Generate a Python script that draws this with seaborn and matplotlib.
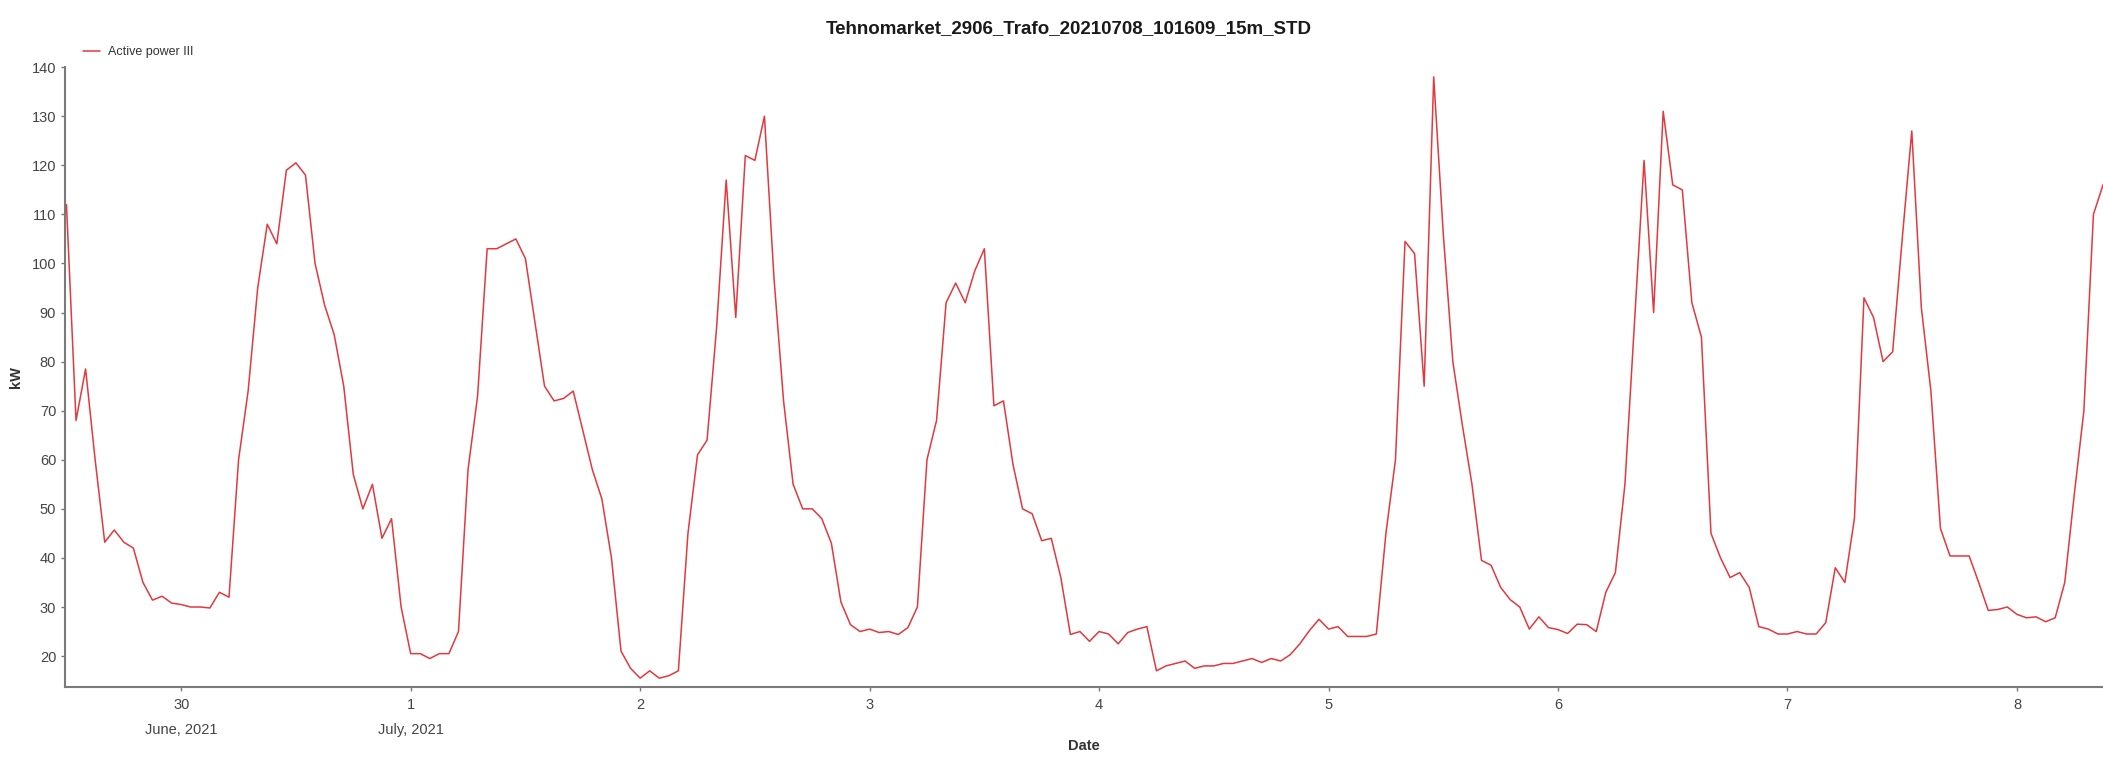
import pandas as pd
import numpy as np
import seaborn as sns
import matplotlib.pyplot as plt
import matplotlib.dates as mdates

# Active power III, hourly readings, starting 29 June 2021 12:00
kw = [
    112, 68, 78.5, 60, 43.2, 45.7, 43.2, 42, 35, 31.4, 32.2, 30.8,
    30.5, 30, 30, 29.8, 33, 32, 60, 74, 95, 108, 104, 119, 120.5, 118, 100, 91.5, 85.5, 75, 57, 50, 55, 44, 48, 30,
    20.5, 20.5, 19.5, 20.5, 20.5, 25, 58, 73, 103, 103, 104, 105, 101, 88, 75, 72, 72.5, 74, 66, 58, 52, 40, 21, 17.5,
    15.5, 17, 15.5, 16, 17, 45, 61, 64, 87, 117, 89, 122, 121, 130, 97, 72, 55, 50, 50, 48, 43, 31, 26.4, 25,
    25.5, 24.8, 25, 24.4, 25.8, 30, 60, 68, 92, 96, 92, 98.5, 103, 71, 72, 59, 50, 49, 43.5, 44, 36, 24.4, 25, 23,
    25, 24.5, 22.5, 24.8, 25.5, 26, 17, 18, 18.5, 19, 17.5, 18, 18, 18.5, 18.5, 19, 19.5, 18.7, 19.5, 19, 20.3, 22.5, 25.2, 27.5,
    25.5, 26, 24, 24, 24, 24.5, 45, 60, 104.5, 102, 75, 138, 106, 80, 67, 55, 39.5, 38.5, 34, 31.5, 30, 25.5, 28, 25.8,
    25.4, 24.6, 26.5, 26.4, 25, 33, 37, 55, 88, 121, 90, 131, 116, 115, 92, 85, 45, 40, 36, 37, 34, 26, 25.5, 24.5,
    24.5, 25, 24.5, 24.5, 26.8, 38, 35, 48, 93, 89, 80, 82, 105, 127, 91, 74, 46, 40.4, 40.4, 40.4, 35, 29.3, 29.5, 30,
    28.5, 27.8, 28, 27, 27.8, 35, 53, 70, 110, 116, 119,
]
tick_days = ["2021-06-30", "2021-07-01", "2021-07-02", "2021-07-03", "2021-07-04",
             "2021-07-05", "2021-07-06", "2021-07-07", "2021-07-08"]
tick_labels = ["30\nJune, 2021", "1\nJuly, 2021", "2", "3", "4", "5", "6", "7", "8"]
y_ticks = [20, 30, 40, 50, 60, 70, 80, 90, 100, 110, 120, 130, 140]

df = pd.DataFrame({
    "Date": pd.date_range("2021-06-29 12:00", periods=len(kw), freq="1h"),
    "kW": kw,
})
df["series"] = "Active power III"

sns.set_style("ticks")
plt.rcParams["font.family"] = ["Liberation Sans Narrow", "Liberation Sans", "DejaVu Sans"]

fig = plt.figure(figsize=(21.03, 7.63), dpi=100)
ax = fig.add_axes([0.031, 0.0996, 0.969, 0.8124])

sns.lineplot(data=df, x="Date", y="kW", hue="series", palette=["#e2383e"],
             linewidth=1.1, ax=ax, legend=False)

ax.set_xlim(pd.Timestamp("2021-06-29 11:52"), pd.Timestamp("2021-07-08 09:00"))
ax.set_ylim(13.7, 140)
ax.set_yticks(y_ticks)
ax.set_xticks(pd.to_datetime(tick_days))
ax.set_xticklabels(tick_labels)
for lab in ax.get_xticklabels():
    lab.set_linespacing(2.0)

for s in ["top", "right"]:
    ax.spines[s].set_visible(False)
for s in ["left", "bottom"]:
    ax.spines[s].set_color("#7a7a7a")
    ax.spines[s].set_linewidth(1.5)
ax.tick_params(axis="both", colors="#7a7a7a", labelcolor="#444444",
               labelsize=10.5, length=3, width=1)
ax.tick_params(axis="x", pad=5)

ax.set_xlabel("Date", fontsize=10.5, fontweight="bold", color="#333333", labelpad=1)
ax.set_ylabel("kW", fontsize=10.5, fontweight="bold", color="#333333", labelpad=6)

fig.text(0.508, 0.962, "Tehnomarket_2906_Trafo_20210708_101609_15m_STD",
         ha="center", va="center", fontsize=13.5, fontweight="bold", color="#1a1a1a")

# legend entry in the top-left corner
ax.plot([], [], color="#e2383e", linewidth=1.1, label="Active power III")
fig.legend(loc="center left", bbox_to_anchor=(0.034, 0.932), frameon=False,
           fontsize=9, handlelength=1.4, handletextpad=0.6, labelcolor="#333333")

fig.savefig("out.png", dpi=100)
